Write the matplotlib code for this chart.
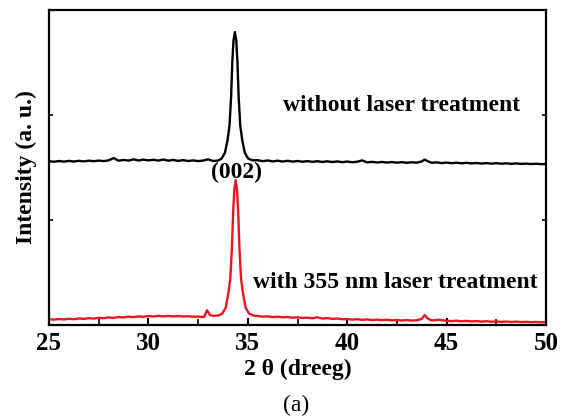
# -*- coding: utf-8 -*-
import numpy as np
import matplotlib
matplotlib.use('Agg')
import matplotlib.pyplot as plt

plt.rcParams['font.family'] = ['Liberation Serif', 'DejaVu Serif']

# 未经激光处理 (black)
two_theta_raw = [25.0, 25.25, 25.5, 25.75, 26.0, 26.25, 26.5, 26.75, 27.0, 27.25,
                 27.5, 27.75, 28.0, 28.25, 28.5, 28.75, 29.0, 29.25, 29.5, 29.75,
                 30.0, 30.25, 30.5, 30.75, 31.0, 31.25, 31.5, 31.75, 32.0, 32.25,
                 32.5, 32.75, 33.0, 33.25, 33.5, 33.68, 33.85, 33.98, 34.08, 34.16,
                 34.22, 34.28, 34.35, 34.42, 34.48, 34.54, 34.62, 34.72, 34.85, 35.02,
                 35.25, 35.5, 35.75, 36.0, 36.25, 36.5, 36.75, 37.0, 37.25, 37.5,
                 37.75, 38.0, 38.25, 38.5, 38.75, 39.0, 39.25, 39.5, 39.75, 40.0,
                 40.25, 40.5, 40.75, 41.0, 41.25, 41.5, 41.75, 42.0, 42.25, 42.5,
                 42.75, 43.0, 43.25, 43.5, 43.75, 43.9, 44.05, 44.25, 44.5, 44.75,
                 45.0, 45.25, 45.5, 45.75, 46.0, 46.25, 46.5, 46.75, 47.0, 47.25,
                 47.5, 47.75, 48.0, 48.25, 48.5, 48.75, 49.0, 49.25, 49.5, 49.75, 50.0]
intensity_raw = [1.560, 1.555, 1.562, 1.556, 1.563, 1.557, 1.564, 1.558, 1.565, 1.560,
                 1.566, 1.561, 1.568, 1.590, 1.565, 1.572, 1.566, 1.578, 1.567, 1.575,
                 1.568, 1.574, 1.566, 1.576, 1.565, 1.572, 1.563, 1.570, 1.562, 1.568,
                 1.561, 1.566, 1.578, 1.562, 1.566, 1.585, 1.640, 1.760, 1.900, 2.170,
                 2.500, 2.710, 2.790, 2.710, 2.500, 2.170, 1.900, 1.760, 1.640, 1.585,
                 1.568, 1.570, 1.560, 1.567, 1.558, 1.565, 1.557, 1.564, 1.556, 1.562,
                 1.555, 1.561, 1.554, 1.560, 1.553, 1.559, 1.552, 1.558, 1.551, 1.557,
                 1.550, 1.555, 1.568, 1.549, 1.554, 1.548, 1.553, 1.547, 1.552, 1.546,
                 1.551, 1.545, 1.550, 1.546, 1.558, 1.575, 1.560, 1.545, 1.549, 1.542,
                 1.547, 1.541, 1.546, 1.540, 1.545, 1.539, 1.543, 1.538, 1.542, 1.537,
                 1.541, 1.536, 1.540, 1.535, 1.539, 1.534, 1.537, 1.533, 1.536, 1.532, 1.533]

# 355 nm 激光处理后 (red)
two_theta_laser = [25.0, 25.25, 25.5, 25.75, 26.0, 26.25, 26.5, 26.75, 27.0, 27.25,
                   27.5, 27.75, 28.0, 28.25, 28.5, 28.75, 29.0, 29.25, 29.5, 29.75,
                   30.0, 30.25, 30.5, 30.75, 31.0, 31.25, 31.5, 31.75, 32.0, 32.25,
                   32.5, 32.8, 32.95, 33.1, 33.3, 33.55, 33.72, 33.89, 34.02, 34.12,
                   34.2, 34.26, 34.32, 34.39, 34.46, 34.52, 34.58, 34.66, 34.76, 34.89,
                   35.06, 35.25, 35.5, 35.75, 36.0, 36.25, 36.5, 36.75, 37.0, 37.25,
                   37.5, 37.75, 38.0, 38.25, 38.5, 38.75, 39.0, 39.25, 39.5, 39.75,
                   40.0, 40.25, 40.5, 40.75, 41.0, 41.25, 41.5, 41.75, 42.0, 42.25,
                   42.5, 42.75, 43.0, 43.25, 43.5, 43.75, 43.9, 44.05, 44.25, 44.6,
                   45.0, 45.25, 45.5, 45.75, 46.0, 46.25, 46.5, 46.75, 47.0, 47.25,
                   47.5, 47.75, 48.0, 48.25, 48.5, 48.75, 49.0, 49.25, 49.5, 49.75, 50.0]
intensity_laser = [0.055, 0.051, 0.057, 0.053, 0.059, 0.055, 0.062, 0.058, 0.065, 0.061,
                   0.068, 0.064, 0.072, 0.068, 0.076, 0.072, 0.079, 0.075, 0.082, 0.078,
                   0.085, 0.081, 0.087, 0.082, 0.086, 0.082, 0.085, 0.081, 0.083, 0.079,
                   0.080, 0.076, 0.140, 0.095, 0.086, 0.092, 0.110, 0.165, 0.300, 0.440,
                   0.730, 1.060, 1.280, 1.380, 1.280, 1.060, 0.730, 0.440, 0.300, 0.165,
                   0.110, 0.092, 0.085, 0.080, 0.082, 0.076, 0.079, 0.073, 0.076, 0.070,
                   0.073, 0.067, 0.070, 0.064, 0.073, 0.061, 0.066, 0.058, 0.062, 0.055,
                   0.057, 0.051, 0.055, 0.049, 0.053, 0.047, 0.051, 0.046, 0.050, 0.044,
                   0.048, 0.043, 0.047, 0.042, 0.045, 0.058, 0.095, 0.062, 0.043, 0.050,
                   0.040, 0.037, 0.041, 0.035, 0.039, 0.034, 0.037, 0.032, 0.036, 0.031,
                   0.034, 0.030, 0.033, 0.029, 0.032, 0.028, 0.030, 0.027, 0.029, 0.026, 0.026]

x_ticks = [25, 30, 35, 40, 45, 50]
x_minor = [27.5, 32.5, 37.5, 42.5, 47.5]
y_ticks = [1, 2]


def plot_xrd():
    fig = plt.figure(figsize=(5.65, 4.18), dpi=100)
    ax = fig.add_axes([0.0867, 0.2225, 0.8797, 0.7535])

    ax.plot(two_theta_raw, intensity_raw, color='black', lw=1.7)
    ax.plot(two_theta_laser, intensity_laser, color='#e8161e', lw=1.7)

    ax.set_xlim(25, 50)
    ax.set_ylim(0, 3)

    ax.set_xticks(x_ticks)
    ax.set_xticks(x_minor, minor=True)
    ax.set_yticks(y_ticks)
    ax.set_yticklabels([])
    ax.set_xticklabels([str(t) for t in x_ticks], fontsize=18, fontweight='bold')
    ax.tick_params(axis='x', which='major', direction='in', length=5, width=1.5, pad=5)
    ax.tick_params(axis='x', which='minor', direction='in', length=4, width=1.2)
    ax.tick_params(axis='y', direction='in', length=3, width=1.2, right=True)
    for s in ax.spines.values():
        s.set_linewidth(1.6)

    ax.set_xlabel('2 θ (dreeg)', fontsize=17, fontweight='bold', labelpad=3)
    ax.set_ylabel('Intensity (a. u.)', fontsize=17, fontweight='bold', labelpad=5)

    ax.text(36.77, 2.095, 'without laser treatment', fontsize=17, fontweight='bold',
            ha='left', va='center')
    ax.text(35.25, 0.40, 'with 355 nm laser treatment', fontsize=17, fontweight='bold',
            ha='left', va='center')
    ax.text(34.45, 1.45, '(002)', fontsize=17, fontweight='bold', ha='center', va='center')

    fig.text(0.524, 1 - 405 / 418, '(a)', fontsize=17, ha='center', va='center')

    plt.savefig('out.png', dpi=100)
    plt.close()


if __name__ == "__main__":
    plot_xrd()
